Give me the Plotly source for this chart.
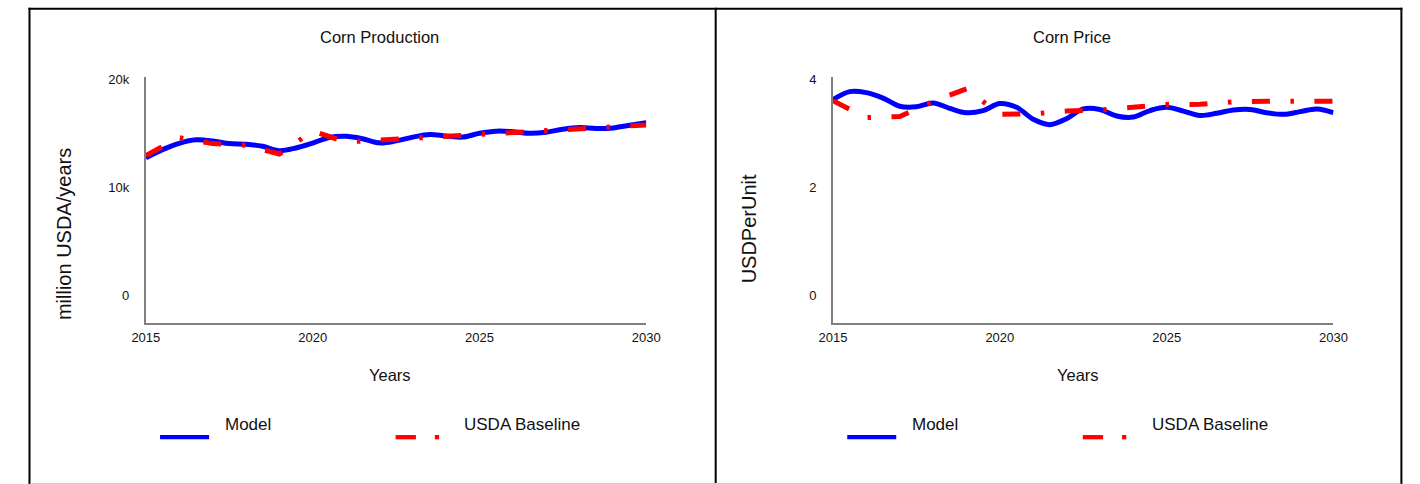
import plotly.graph_objects as go

W, H = 1420, 484

# ---------------- data ----------------
model_years = [2015.0, 2015.5, 2016.0, 2016.5, 2017.0, 2017.5, 2018.0, 2018.5, 2019.0, 2019.5,
               2020.0, 2020.5, 2021.0, 2021.5, 2022.0, 2022.5, 2023.0, 2023.5, 2024.0, 2024.5,
               2025.0, 2025.5, 2026.0, 2026.5, 2027.0, 2027.5, 2028.0, 2028.5, 2029.0, 2029.5, 2030.0]
production_model = [12750, 13500, 14080, 14400, 14300, 14050, 14000, 13800, 13400, 13650,
                    14100, 14620, 14730, 14500, 14120, 14300, 14650, 14900, 14750, 14650,
                    15000, 15200, 15150, 15000, 15100, 15380, 15530, 15450, 15500, 15750, 15980]
price_model = [3.62, 3.77, 3.75, 3.65, 3.50, 3.49, 3.56, 3.46, 3.38, 3.42,
               3.55, 3.48, 3.26, 3.16, 3.27, 3.45, 3.44, 3.32, 3.30, 3.42,
               3.48, 3.41, 3.33, 3.37, 3.43, 3.44, 3.38, 3.35, 3.40, 3.45, 3.38]

usda_years = [2015, 2016, 2017, 2018, 2019, 2020, 2021, 2022, 2023, 2024, 2025, 2026, 2027, 2028, 2029, 2030]
production_usda = [12950, 14600, 14050, 13900, 13090, 15200, 14200, 14380, 14590, 14740,
                   14960, 15130, 15220, 15420, 15570, 15770]
price_usda = [3.60, 3.29, 3.31, 3.59, 3.82, 3.35, 3.36, 3.41, 3.43, 3.47,
              3.53, 3.535, 3.58, 3.59, 3.59, 3.59]

x_ticks = [2015, 2020, 2025, 2030]
prod_ticks = [0, 10000, 20000]
price_ticks = [0, 2, 4]

titles = ["Corn Production", "Corn Price"]
y_titles = ["million USDA/years", "USDPerUnit"]
x_title = "Years"
series_names = ["Model", "USDA Baseline"]

# ---------------- style ----------------
FONT = "Liberation Sans, Arial, sans-serif"
BLUE = "#0000ff"
RED = "#ff0000"
AXIS = "#808080"
DASH = "18px,20.5px,3.5px,20.5px"


def px(x):
    return x / W


def py(y):
    return 1 - y / H


fig = go.Figure()

fig.add_trace(go.Scatter(x=model_years, y=production_model, mode="lines", name=series_names[0],
                         line=dict(color=BLUE, width=5, shape="spline", smoothing=1),
                         xaxis="x", yaxis="y", showlegend=False))
fig.add_trace(go.Scatter(x=usda_years, y=production_usda, mode="lines", name=series_names[1],
                         line=dict(color=RED, width=5, dash=DASH),
                         xaxis="x", yaxis="y", showlegend=False))
fig.add_trace(go.Scatter(x=model_years, y=price_model, mode="lines", name=series_names[0],
                         line=dict(color=BLUE, width=5, shape="spline", smoothing=1),
                         xaxis="x2", yaxis="y2", showlegend=False))
fig.add_trace(go.Scatter(x=usda_years, y=price_usda, mode="lines", name=series_names[1],
                         line=dict(color=RED, width=5, dash=DASH),
                         xaxis="x2", yaxis="y2", showlegend=False))

ydom = [py(321), py(72.7)]
common_x = dict(range=[2015, 2030], tickvals=x_ticks, showline=True, linecolor=AXIS, linewidth=2,
                showgrid=False, zeroline=False, ticks="", tickfont=dict(size=13, color="#111"),
                ticklabelstandoff=2, fixedrange=True)
common_y = dict(showline=True, linecolor=AXIS, linewidth=2, showgrid=False, zeroline=False,
                ticks="", tickfont=dict(size=13, color="#111"), ticklabelstandoff=12, fixedrange=True)

fig.update_layout(
    width=W, height=H,
    margin=dict(l=0, r=0, t=0, b=0),
    paper_bgcolor="white", plot_bgcolor="white",
    font=dict(family=FONT, color="#111"),
    showlegend=False,
    xaxis=dict(domain=[px(134.5), px(645)], anchor="y", **common_x),
    yaxis=dict(domain=ydom, anchor="x", range=[-2470, 20200], tickvals=prod_ticks,
               tickformat="~s", **common_y),
    xaxis2=dict(domain=[px(835.5), px(1346)], anchor="y2", **common_x),
    yaxis2=dict(domain=ydom, anchor="x2", range=[-0.494, 4.04], tickvals=price_ticks,
                **common_y),
)

annotations = []
shapes = []
offsets = [0, 701]
title_cx = [373, 1079]
years_cx = [384, 1085]
ytitle_pos = [(51, 231.5), (750, 226.5)]
for i in range(2):
    annotations.append(dict(text=titles[i], x=px(title_cx[i]), y=py(32), xref="paper", yref="paper",
                            xanchor="center", yanchor="middle", showarrow=False,
                            font=dict(size=16.5)))
    annotations.append(dict(text=x_title, x=px(years_cx[i]), y=py(374), xref="paper", yref="paper",
                            xanchor="center", yanchor="middle", showarrow=False,
                            font=dict(size=16.5)))
    annotations.append(dict(text=y_titles[i], x=px(ytitle_pos[i][0]), y=py(ytitle_pos[i][1]),
                            xref="paper", yref="paper", xanchor="center", yanchor="middle",
                            textangle=-90, showarrow=False, font=dict(size=20)))
    o = offsets[i]
    # legend (drawn per panel)
    shapes.append(dict(type="line", xref="paper", yref="paper", x0=px(149 + o), x1=px(199 + o),
                       y0=py(436.7), y1=py(436.7), line=dict(color=BLUE, width=4.3)))
    shapes.append(dict(type="line", xref="paper", yref="paper", x0=px(389.3 + o), x1=px(410 + o),
                       y0=py(436.7), y1=py(436.7), line=dict(color=RED, width=4.3)))
    shapes.append(dict(type="line", xref="paper", yref="paper", x0=px(429.3 + o), x1=px(433.7 + o),
                       y0=py(436.7), y1=py(436.7), line=dict(color=RED, width=4.3)))
    annotations.append(dict(text=series_names[0], x=px(213 + o), y=py(424), xref="paper", yref="paper",
                            xanchor="left", yanchor="middle", showarrow=False, font=dict(size=17)))
    annotations.append(dict(text=series_names[1], x=px(457.5 + o), y=py(424), xref="paper", yref="paper",
                            xanchor="left", yanchor="middle", showarrow=False, font=dict(size=17)))

# panel borders
for xline in [15.8, 715.8, 1415.3]:
    shapes.append(dict(type="line", xref="paper", yref="paper", x0=px(xline), x1=px(xline),
                       y0=py(2.7), y1=py(490), line=dict(color="black", width=2)))
shapes.append(dict(type="line", xref="paper", yref="paper", x0=px(14.8), x1=px(1416.3),
                   y0=py(3.7), y1=py(3.7), line=dict(color="black", width=2)))
shapes.append(dict(type="line", xref="paper", yref="paper", x0=px(16.8), x1=px(1414.3),
                   y0=py(483.5), y1=py(483.5), line=dict(color="#d0d0d0", width=1)))

fig.update_layout(annotations=annotations, shapes=shapes)
fig.write_html(
    "out.html",
    post_script="document.body.style.margin='0px';document.body.style.overflow='hidden';",
    config={"displayModeBar": False},
)
